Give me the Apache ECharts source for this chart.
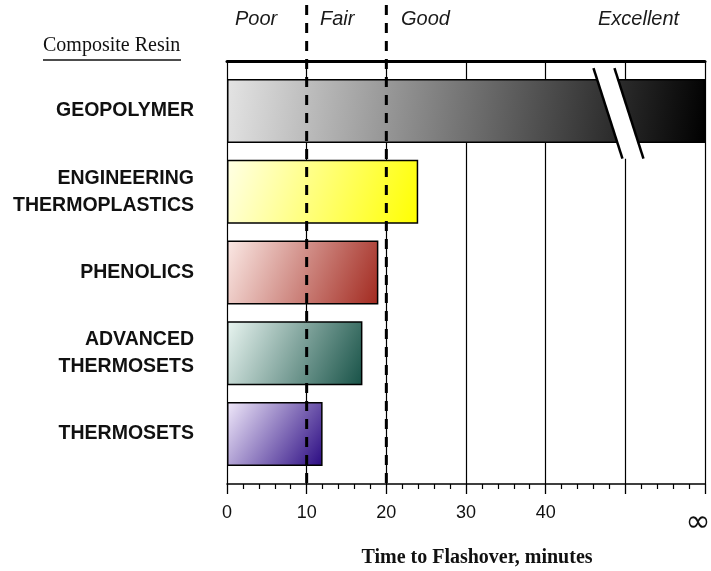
<!DOCTYPE html>
<html>
<head>
<meta charset="utf-8">
<script src="https://cdn.jsdelivr.net/npm/echarts@6/dist/echarts.min.js"></script>
<style>
  html, body { margin: 0; padding: 0; background: #fff; }
  #chart { width: 711px; height: 571px; }
</style>
</head>
<body>
<div id="chart"></div>
<script>
// Fire performance of composite resins: time to flashover (minutes).
const categories = ['GEOPOLYMER', 'ENGINEERING\nTHERMOPLASTICS', 'PHENOLICS', 'ADVANCED\nTHERMOSETS', 'THERMOSETS'];
// Geopolymer never reaches flashover: it runs to the end of the scale (the ∞ tick).
const flashoverMinutes = [60, 24, 19, 17, 12];
const tickLabels = ['0', '10', '20', '30', '40', '', '∞'];
const ratingBounds = [10, 20];
const ratingLabels = ['Poor', 'Fair', 'Good', 'Excellent'];
const scaleBreakAt = 46;

// light -> dark shading for each bar
const barShades = [
  ['#e4e4e4', '#000000'],
  ['#ffffe6', '#ffff00'],
  ['#fbe9e5', '#a2291f'],
  ['#e9f5f1', '#175247'],
  ['#f1eafb', '#2a0a82']
];

const chart = echarts.init(document.getElementById('chart'));

function shade(i) {
  return new echarts.graphic.LinearGradient(0, 0, 1, 1, [
    { offset: 0, color: barShades[i][0] },
    { offset: 1, color: barShades[i][1] }
  ]);
}

const headerX = [235, 320, 401, 598];

const option = {
  animation: false,
  backgroundColor: '#ffffff',
  grid: [
    { left: 227, right: 6, top: 61, bottom: 87, outerBoundsMode: 'none', containLabel: false },
    { left: 227, right: 6, top: 70.6, bottom: 96.6, outerBoundsMode: 'none', containLabel: false }
  ],
  xAxis: [
    {
      gridIndex: 0, type: 'value', min: 0, max: 60, interval: 10, position: 'bottom',
      axisLine: { show: true, lineStyle: { color: '#000', width: 1.5 } },
      axisTick: { show: true, length: 10, lineStyle: { color: '#000', width: 1.3 } },
      minorTick: { show: true, splitNumber: 5, length: 5, lineStyle: { color: '#000', width: 1.2 } },
      splitLine: { show: true, lineStyle: { color: '#000', width: 1.2 } },
      axisLabel: {
        margin: 20, fontSize: 18, color: '#111', fontFamily: 'Liberation Sans',
        hideOverlap: false,
        formatter: v => {
          const t = tickLabels[Math.round(v / 10)];
          return t === '∞' ? '{inf|∞}' : t;
        },
        rich: { inf: { fontSize: 30, fontFamily: 'DejaVu Sans', padding: [4, 14, 0, 0], color: '#111' } }
      },
      name: 'Time to Flashover, minutes',
      nameLocation: 'middle',
      nameGap: 64,
      nameTextStyle: {
        fontFamily: 'Liberation Serif', fontWeight: 'bold', fontSize: 20, color: '#111',
        padding: [0, 0, 0, 22]
      }
    },
    {
      gridIndex: 0, type: 'value', min: 0, max: 60, position: 'top',
      axisLine: { show: true, lineStyle: { color: '#000', width: 3 } },
      axisTick: { show: false }, axisLabel: { show: false }, splitLine: { show: false }
    },
    { gridIndex: 1, type: 'value', min: 0, max: 60, show: false }
  ],
  yAxis: [
    { gridIndex: 0, type: 'value', min: 0, max: 1, show: false },
    {
      gridIndex: 1, type: 'category', inverse: true, data: categories,
      axisLine: { show: false }, axisTick: { show: false }, splitLine: { show: false },
      axisLabel: {
        margin: 33, fontSize: 19.5, fontWeight: 'bold', color: '#111',
        fontFamily: 'Liberation Sans', lineHeight: 27, align: 'right'
      }
    }
  ],
  graphic: [
    {
      type: 'text', left: 43, top: 36,
      style: { text: 'Composite Resin', font: '20px "Liberation Serif"', fill: '#111' }
    },
    {
      type: 'line', shape: { x1: 43, y1: 60, x2: 181, y2: 60 },
      style: { stroke: '#111', lineWidth: 1.5 }
    },
    ...ratingLabels.map((t, i) => ({
      type: 'text', left: headerX[i], top: 9,
      style: { text: t, font: 'italic 20px "Liberation Sans"', fill: '#1a1a1a' }
    }))
  ],
  series: [
    {
      type: 'bar', xAxisIndex: 2, yAxisIndex: 1, barWidth: 64, z: 3,
      itemStyle: { borderColor: '#000', borderWidth: 1.5 },
      data: flashoverMinutes.map((v, i) => ({ value: v, itemStyle: { color: shade(i) } }))
    },
    {
      // scale break drawn across the geopolymer bar
      type: 'custom', xAxisIndex: 2, yAxisIndex: 1, z: 4, clip: false,
      data: [[scaleBreakAt, 0]],
      renderItem: (params, api) => {
        const p = api.coord([api.value(0), api.value(1)]);
        const band = api.size([0, 1])[1];
        const top = p[1] - 0.53 * band;
        const bot = p[1] + 0.59 * band;
        const dx = 29, gap = 21;
        return {
          type: 'group',
          children: [
            {
              type: 'polygon',
              shape: { points: [[p[0], top], [p[0] + gap, top], [p[0] + gap + dx, bot], [p[0] + dx, bot]] },
              style: { fill: '#fff' }
            },
            { type: 'line', shape: { x1: p[0], y1: top, x2: p[0] + dx, y2: bot }, style: { stroke: '#000', lineWidth: 2.5 } },
            { type: 'line', shape: { x1: p[0] + gap, y1: top, x2: p[0] + gap + dx, y2: bot }, style: { stroke: '#000', lineWidth: 2.5 } }
          ]
        };
      }
    },
    {
      // Poor / Fair / Good rating boundaries
      type: 'custom', xAxisIndex: 0, yAxisIndex: 0, z: 10, clip: false,
      data: ratingBounds.map(v => [v]),
      renderItem: (params, api) => {
        const b = api.coord([api.value(0), 0]);
        const t = api.coord([api.value(0), 1]);
        return {
          type: 'line',
          shape: { x1: b[0], y1: t[1] - 56, x2: b[0], y2: b[1] },
          style: { stroke: '#000', lineWidth: 3, lineDash: [10, 8] }
        };
      }
    }
  ]
};

chart.setOption(option);
</script>
</body>
</html>
